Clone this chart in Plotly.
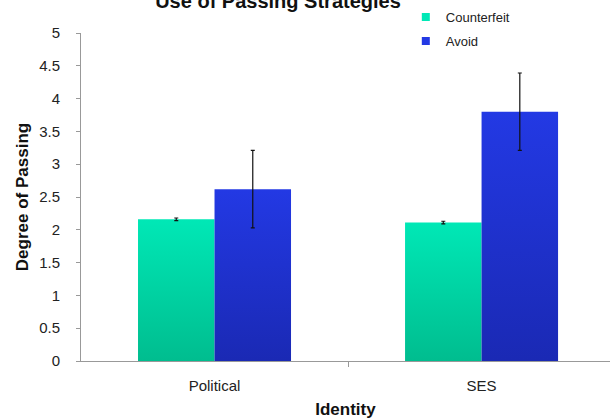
import plotly.graph_objects as go

categories = ["Political", "SES"]
counterfeit = [2.16, 2.11]
counterfeit_err = [0.02, 0.02]
avoid = [2.62, 3.80]
avoid_err = [0.59, 0.59]

series = [
    ("Counterfeit", counterfeit, counterfeit_err, "#00bd8f", "#00e8b6", -1),
    ("Avoid", avoid, avoid_err, "#1a29b4", "#2339e4", 1),
]
bar_w = 0.2865
xs = list(range(len(categories)))

fig = go.Figure()
for name, vals, errs, bottom, top, side in series:
    for x, v in zip(xs, vals):
        x0, x1 = (x - bar_w, x) if side < 0 else (x, x + bar_w)
        fig.add_trace(go.Scatter(
            x=[x0, x1, x1, x0, x0], y=[0, 0, v, v, 0],
            mode="lines", fill="toself", line={"width": 0},
            fillgradient={"type": "vertical",
                          "colorscale": [[0, bottom], [1, top]]},
            showlegend=False, hoverinfo="skip",
        ))
    centers = [x + side * bar_w / 2 for x in xs]
    fig.add_trace(go.Scatter(
        x=centers, y=vals, mode="markers", marker={"size": 1, "opacity": 0},
        error_y={"type": "data", "array": errs, "color": "#111",
                 "thickness": 1.2, "width": 2},
        showlegend=False, hoverinfo="skip",
    ))
    fig.add_trace(go.Scatter(
        x=[None], y=[None], mode="markers", name=name, legendgroup=name,
        marker={"symbol": "square", "size": 8, "color": top},
    ))

fig.update_layout(
    width=610, height=419,
    margin={"l": 81, "r": 0, "t": 33, "b": 58, "autoexpand": False},
    plot_bgcolor="white", paper_bgcolor="white",
    font={"family": "Liberation Sans, Arial, sans-serif", "size": 15, "color": "#222"},
    title={"text": "<b>Use of Passing Strategies</b>", "font": {"size": 20, "color": "#111"},
          "x": 278 / 610, "xanchor": "center", "y": 1 - 1 / 419, "yanchor": "middle"},
    legend={"x": 0.614, "xanchor": "left", "y": 1.094, "yanchor": "top",
            "traceorder": "grouped", "tracegroupgap": 4, "font": {"size": 13},
            "bgcolor": "rgba(0,0,0,0)", "itemwidth": 30},
    showlegend=True,
)
fig.update_xaxes(
    range=[-0.5, 1.481], tickvals=xs, ticktext=categories, ticks="",
    showline=True, linecolor="#999", linewidth=1, showgrid=False, zeroline=False,
    ticklabelstandoff=11,
    minor={"tickvals": [0.5], "ticks": "outside", "ticklen": 5, "tickcolor": "#999"},
    title={"text": "<b>Identity</b>", "font": {"size": 17, "color": "#111"}, "standoff": 10},
)
fig.update_yaxes(
    range=[0, 5], dtick=0.5, ticks="outside", ticklen=4, tickcolor="#999",
    showline=True, linecolor="#999", linewidth=1, showgrid=False, zeroline=False,
    ticklabelstandoff=13,
    title={"text": "<b>Degree of Passing</b>", "font": {"size": 17, "color": "#111"}, "standoff": 6},
)
fig.write_html("out.html", config={"displayModeBar": False},
               post_script="document.body.style.margin='0';")
